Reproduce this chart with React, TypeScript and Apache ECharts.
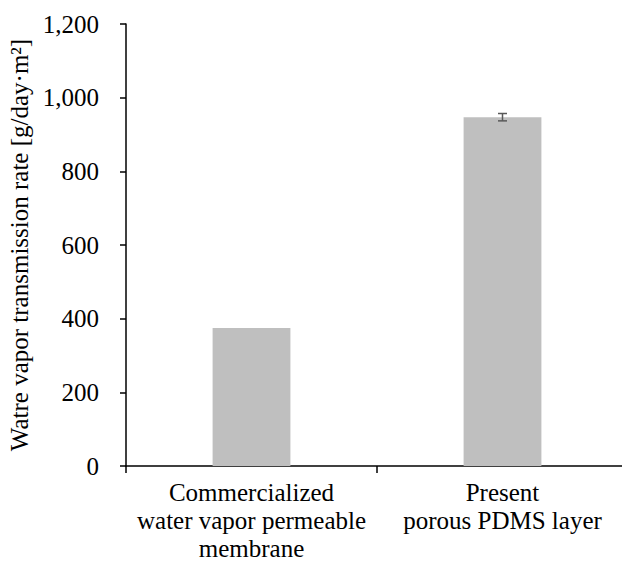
import React, { useEffect, useRef } from "react";
import * as echarts from "echarts";

const categories = [
  "Commercialized\nwater vapor permeable\nmembrane",
  "Present\nporous PDMS layer",
];
const values = [375, 947];
const errors = [0, 10];
const yTitle = "Watre vapor transmission rate [g/day·m²]";

const FONT = "'Liberation Serif', 'Times New Roman', serif";

export default function App() {
  const ref = useRef<HTMLDivElement>(null);
  useEffect(() => {
    const chart = echarts.init(ref.current!, null, { renderer: "svg" });
    chart.setOption({
      animation: false,
      grid: {
        left: 126,
        right: 0,
        top: 24,
        bottom: 96,
        containLabel: false,
        outerBoundsMode: "none",
      },
      xAxis: {
        type: "category",
        data: categories,
        axisLine: { lineStyle: { color: "#000", width: 1.5 } },
        axisTick: { show: true, length: 7, lineStyle: { color: "#000", width: 1.5 } },
        axisLabel: {
          color: "#000",
          fontFamily: FONT,
          fontSize: 25,
          lineHeight: 28,
          margin: 12,
          interval: 0,
        },
      },
      yAxis: {
        type: "value",
        min: 0,
        max: 1200,
        interval: 200,
        name: yTitle,
        nameLocation: "middle",
        nameGap: 90,
        nameTextStyle: { color: "#000", fontFamily: FONT, fontSize: 25 },
        axisLine: { show: true, lineStyle: { color: "#000", width: 1.5 } },
        axisTick: { show: true, length: 6, lineStyle: { color: "#000", width: 1.5 } },
        splitLine: { show: false },
        axisLabel: {
          color: "#000",
          fontFamily: FONT,
          fontSize: 25,
          margin: 27,
          formatter: (v: number) => v.toLocaleString("en-US"),
        },
      },
      series: [
        {
          type: "bar",
          data: values,
          barWidth: "31%",
          itemStyle: { color: "#bfbfbf" },
        },
        {
          type: "custom",
          data: values.map((v, i) => [i, v, errors[i]]),
          z: 10,
          renderItem: (params: any, api: any) => {
            const i = api.value(0);
            const v = api.value(1);
            const e = api.value(2);
            if (!e) return null;
            const top = api.coord([i, v + e]);
            const bot = api.coord([i, v - e]);
            const hw = 4.5;
            const style = { stroke: "#595959", lineWidth: 1.5 };
            return {
              type: "group",
              children: [
                { type: "line", shape: { x1: top[0], y1: top[1], x2: bot[0], y2: bot[1] }, style },
                { type: "line", shape: { x1: top[0] - hw, y1: top[1], x2: top[0] + hw, y2: top[1] }, style },
                { type: "line", shape: { x1: bot[0] - hw, y1: bot[1], x2: bot[0] + hw, y2: bot[1] }, style },
              ],
            };
          },
        },
      ],
    });
    return () => chart.dispose();
  }, []);
  return (
    <div style={{ position: "absolute", left: 0, top: 0, width: 622, height: 562, overflow: "hidden", background: "#fff" }}>
      <div ref={ref} style={{ position: "absolute", left: 0, top: 0, width: 628, height: 562 }} />
    </div>
  );
}
